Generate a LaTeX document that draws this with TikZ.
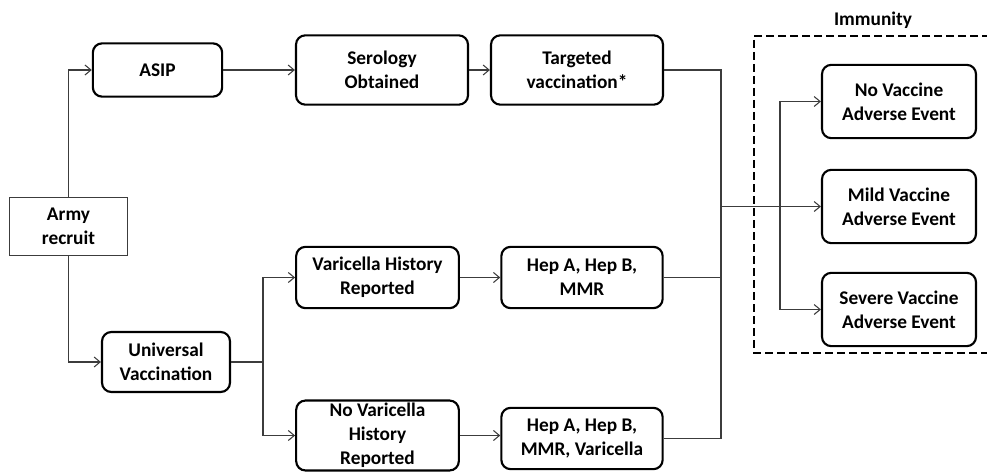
\documentclass[tikz,border=0pt]{standalone}
\usepackage{fontspec}
\setmainfont{Carlito}
\usepackage{tikz}
\usetikzlibrary{arrows.meta, positioning, calc}
\definecolor{linegray}{RGB}{60,60,60}

\begin{document}
\begin{tikzpicture}[x=0.75pt, y=-0.75pt,
      every node/.style={font=\fontsize{14.5}{18}\selectfont\bfseries, align=center},
      box/.style={draw=black, line width=1.6pt, rounded corners=7pt, inner sep=2pt},
      plainbox/.style={draw=linegray, line width=0.8pt, inner sep=2pt},
      conn/.style={draw=linegray, line width=0.8pt},
      arr/.style={conn, -{Straight Barb[length=4.5pt, width=7.5pt]}}]
      \useasboundingbox (0,0) rectangle (987,474);
      % Start
      \node[plainbox, minimum width=89pt, minimum height=44pt] (army) at (68.5,226.5) {Army\\recruit};
      % ASIP branch
      \node[box, minimum width=97pt, minimum height=40pt] (asip) at (157.5,70) {ASIP};
      \node[box, minimum width=129pt, minimum height=52pt] (sero) at (382,70) {Serology\\Obtained};
      \node[box, minimum width=129pt, minimum height=52pt] (targ) at (577,70) {Targeted\\vaccination*};
      % Universal branch
      \node[box, minimum width=96pt, minimum height=45pt] (univ) at (166,362) {Universal\\Vaccination};
      \node[box, minimum width=122pt, minimum height=46pt] (var) at (377.5,277.5) {Varicella History\\Reported};
      \node[box, minimum width=122pt, minimum height=52pt] (novar) at (377.5,435.5) {No Varicella\\History\\Reported};
      \node[box, minimum width=121pt, minimum height=46pt] (hepa) at (582,277.5) {Hep A, Hep B,\\MMR};
      \node[box, minimum width=121pt, minimum height=46pt] (hepb) at (582,438.5) {Hep A, Hep B,\\MMR, Varicella};
      % Immunity
      \node (imm) at (873,20) {Immunity};
      \draw[line width=1.6pt, dash pattern=on 6pt off 3pt] (990,36) -- (754,36) -- (754,353) -- (990,353);
      \node[box, minimum width=115.5pt, minimum height=55pt] (noae) at (899,101.5) {No Vaccine\\Adverse Event};
      \node[box, minimum width=115.5pt, minimum height=55pt] (mild) at (899,206.5) {Mild Vaccine\\Adverse Event};
      \node[box, minimum width=115.5pt, minimum height=55pt] (sevae) at (899,309.5) {Severe Vaccine\\Adverse Event};
      % Connectors
      \coordinate (usplit) at (263,362);
      \coordinate (bus) at (721,206.5);
      \coordinate (fork) at (780,206.5);
      \draw[arr] (army.north) |- (asip.west);
      \draw[arr] (army.south) |- (univ.west);
      \draw[arr] (asip) -- (sero);
      \draw[arr] (sero) -- (targ);
      \draw[conn] (univ.east) -- (usplit);
      \draw[arr] (usplit) |- (var.west);
      \draw[arr] (usplit) |- (novar.west);
      \draw[arr] (var) -- (hepa);
      \draw[arr] (novar.east) -- (novar.east -| hepb.west);
      \draw[conn] (targ.east) -| (bus);
      \draw[conn] (hepa.east) -| (bus);
      \draw[conn] (hepb.east) -| (bus);
      \draw[arr] (bus) -- (mild.west);
      \draw[arr] (fork) |- (noae.west);
      \draw[arr] (fork) |- (sevae.west);
    \end{tikzpicture}
\end{document}
